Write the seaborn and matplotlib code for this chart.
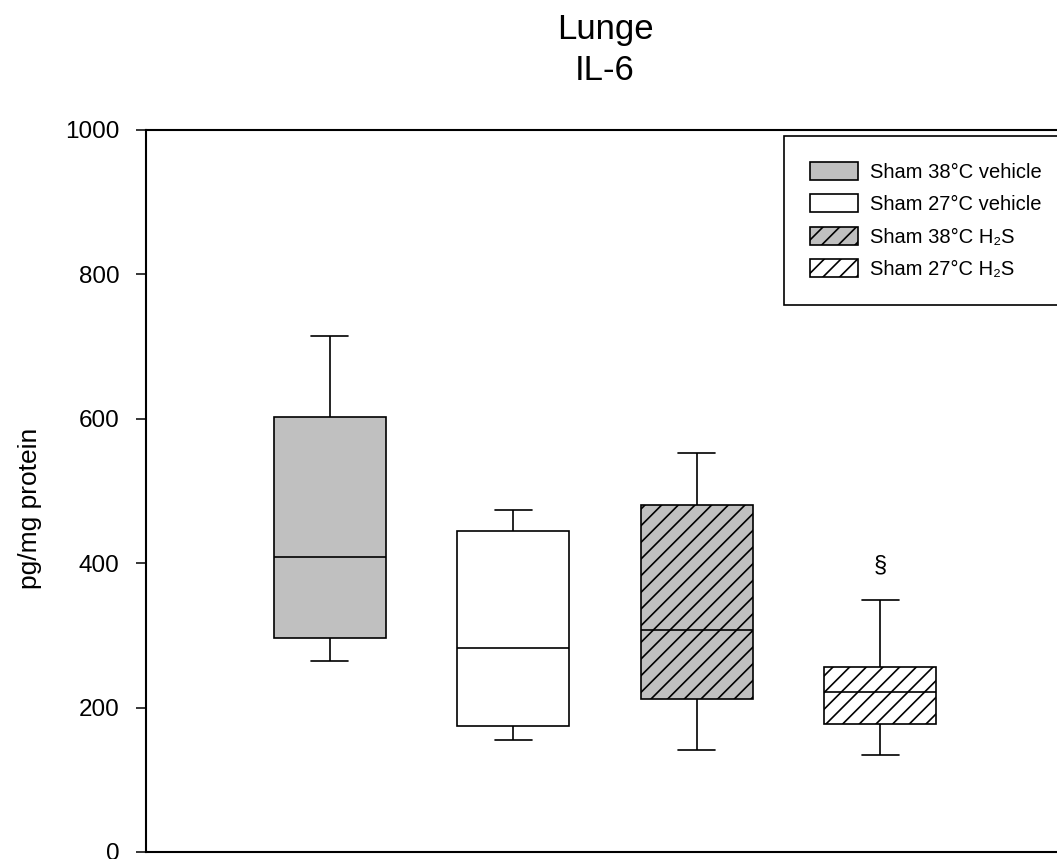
import numpy as np
import pandas as pd
import matplotlib
matplotlib.use("Agg")
import matplotlib.pyplot as plt
import matplotlib.patches as mpatches
import seaborn as sns

# ---- data ----
groups = ["Sham 38°C vehicle", "Sham 27°C vehicle", "Sham 38°C H₂S", "Sham 27°C H₂S"]
lower_whisker = [264, 155, 141, 135]
q1 = [297, 174, 212, 177]
median = [409, 283, 308, 221]
q3 = [603, 444, 480, 256]
upper_whisker = [715, 474, 553, 349]
fill_colors = ["#C0C0C0", "#FFFFFF", "#C0C0C0", "#FFFFFF"]
hatches = [None, None, "//", "//"]
yticks = [0, 200, 400, 600, 800, 1000]

rows = []
for g, a, b, c, d, e in zip(groups, lower_whisker, q1, median, q3, upper_whisker):
    for v in (a, b, c, d, e):
        rows.append({"group": g, "value": v})
df = pd.DataFrame(rows)

sns.set_style("ticks")
plt.rcParams["font.family"] = ["Liberation Sans", "DejaVu Sans"]
plt.rcParams["hatch.linewidth"] = 1.2
plt.rcParams["text.color"] = "black"

fig = plt.figure(figsize=(10.57, 8.59), dpi=100)
W, H = 1057, 859
ax = fig.add_axes([146 / W, 7 / H, 918 / W, 722 / H])

palette = dict(zip(groups, fill_colors))
sns.boxplot(data=df, x="group", y="value", hue="group", order=groups,
            hue_order=groups, palette=palette, saturation=1, width=0.61,
            whis=(0, 100), linecolor="black", linewidth=1.2, legend=False,
            capwidths=0.2, ax=ax)

for patch, h in zip(ax.patches, hatches):
    if h:
        patch.set_hatch(h)

ax.set_xlim(-1, 4)
ax.set_ylim(0, 1000)
ax.set_yticks(yticks)
ax.set_xticks([])
ax.set_xlabel("")
ax.set_ylabel("pg/mg protein", fontsize=19, color="black")
ax.yaxis.set_label_coords(-0.113, 0.476)
ax.tick_params(axis="y", length=7, width=1.1, pad=12, labelsize=17.5,
               colors="black")
for s in ax.spines.values():
    s.set_visible(True)
    s.set_linewidth(1.5)
    s.set_color("black")

ax.set_title("Lunge\nIL-6", fontsize=25, pad=36, linespacing=1.3,
             color="black")

ax.text(3, 397, "§", ha="center", va="center", fontsize=17, color="black")

handles = [mpatches.Patch(facecolor=c, edgecolor="black", hatch=h, linewidth=1.2)
           for c, h in zip(fill_colors, hatches)]
leg = ax.legend(handles, groups, loc="upper left",
                bbox_to_anchor=(0.695, 0.992), fontsize=14.5, frameon=True,
                fancybox=False, edgecolor="black", framealpha=1,
                handlelength=2.35, handleheight=1.0, handletextpad=0.6,
                labelspacing=0.62, borderpad=1.3, borderaxespad=0,
                labelcolor="black")
leg.get_frame().set_linewidth(1.2)

fig.savefig("out.png", dpi=100)
